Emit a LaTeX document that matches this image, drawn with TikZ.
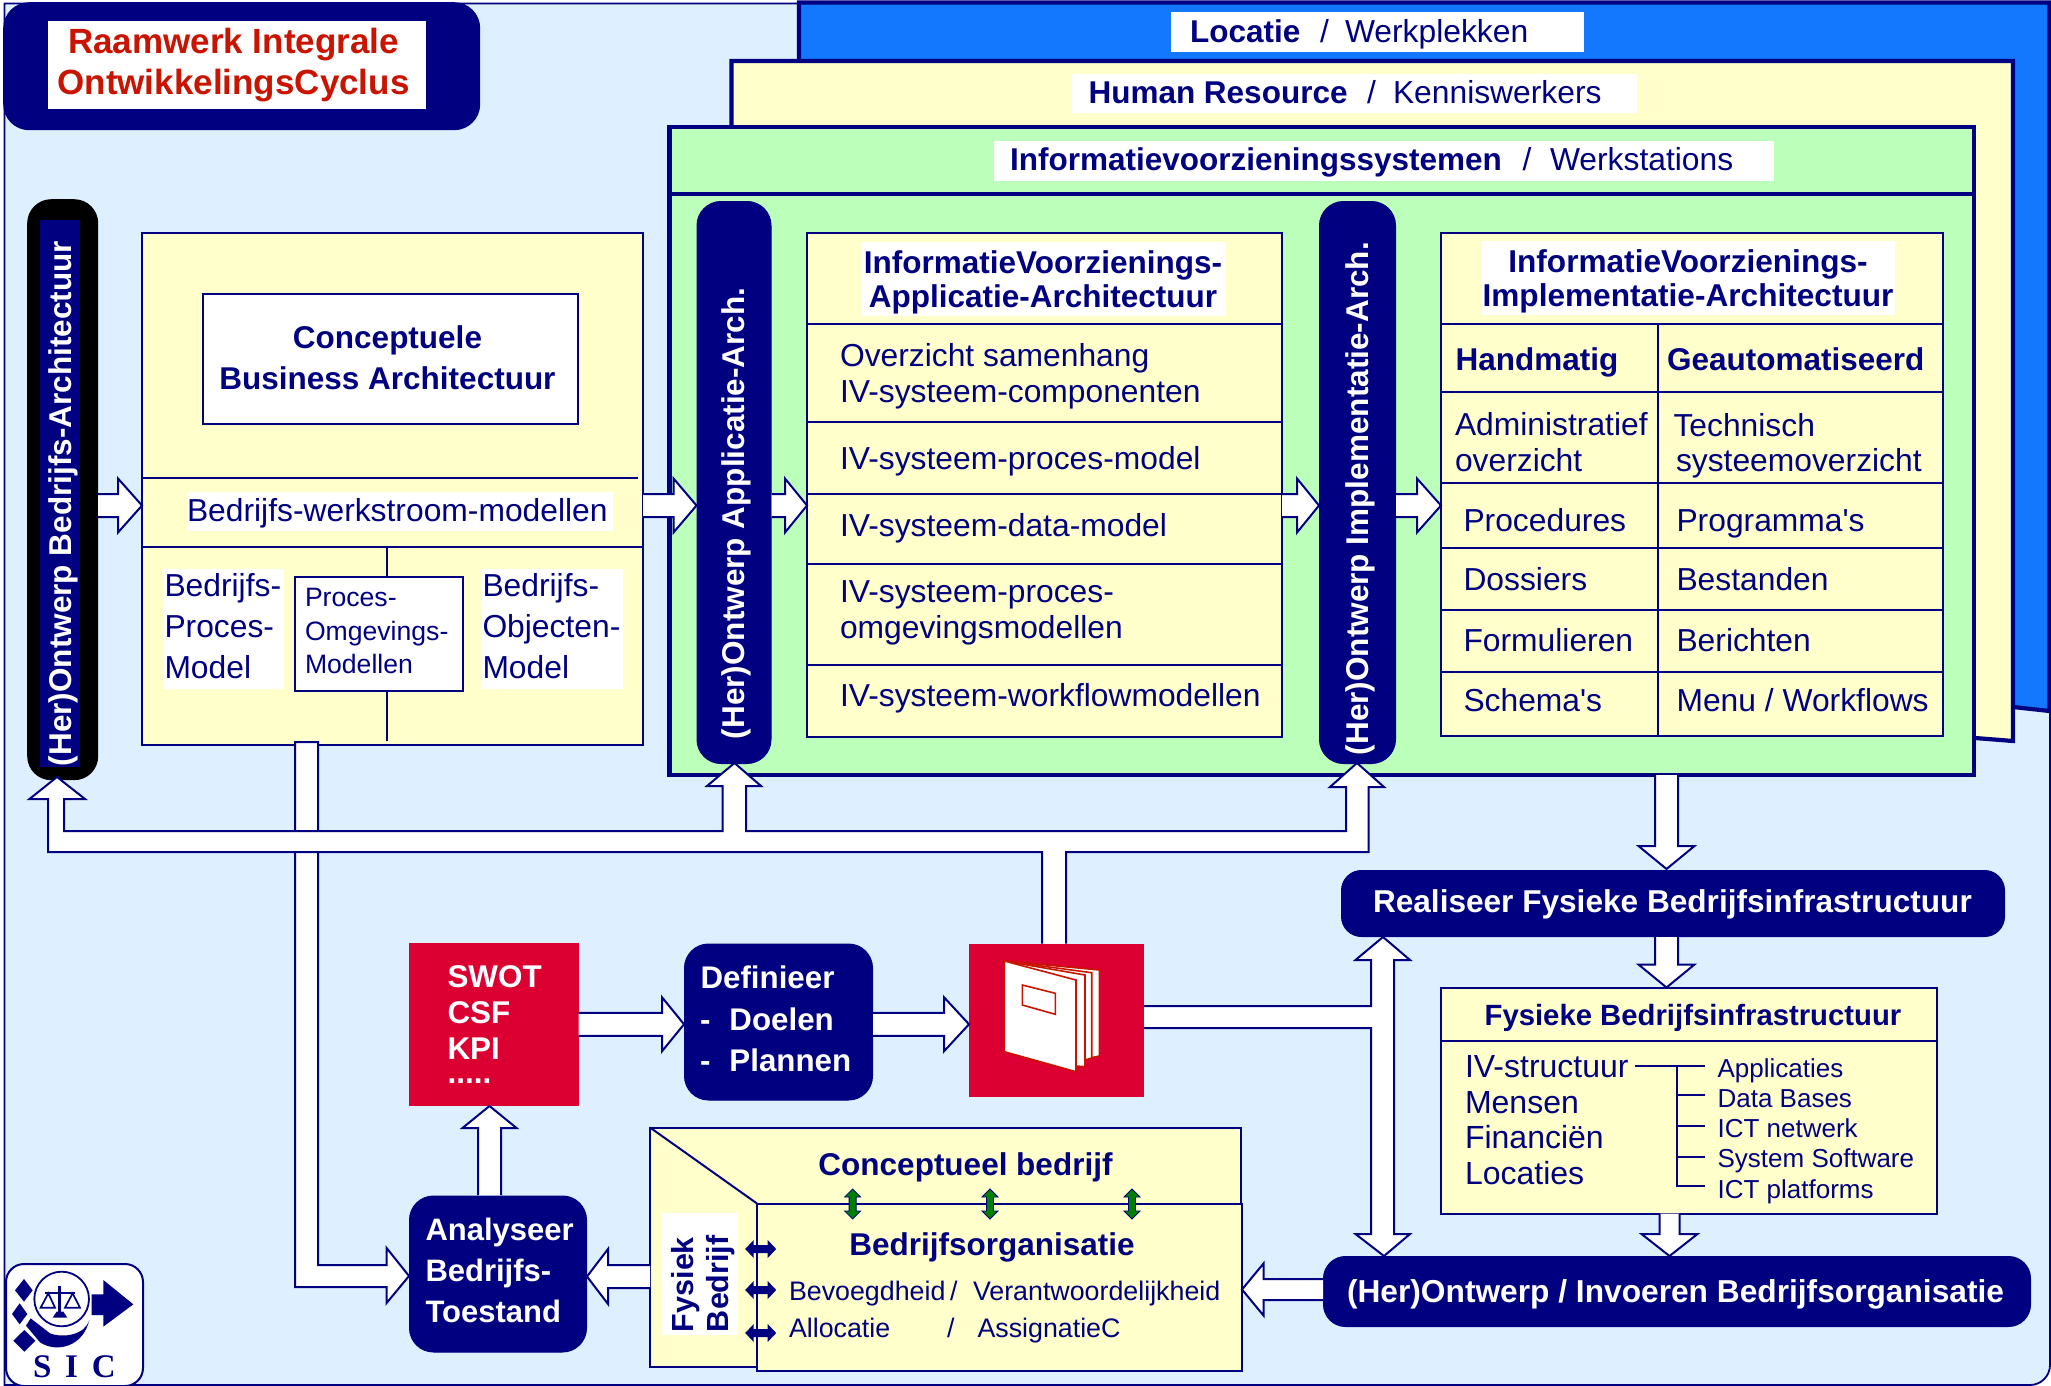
\documentclass[tikz,border=0pt]{standalone}
\usepackage{fontspec}
\setmainfont{Liberation Sans}[Ligatures=TeXOff]
\newfontfamily\serifb{Liberation Serif}
\usetikzlibrary{calc}
\definecolor{nvy}{HTML}{000080}
\definecolor{pagebg}{HTML}{DEF0FF}
\definecolor{yel}{HTML}{FFFFCC}
\definecolor{grn}{HTML}{BBFFBB}
\definecolor{blu}{HTML}{1478FF}
\definecolor{redbox}{HTML}{DC0032}
\definecolor{redt}{HTML}{C81400}
\definecolor{grnarr}{HTML}{008000}
\newcommand\sz[2]{\fontsize{#1}{#2}\selectfont}
\newcounter{tn}
\newcommand\tx[4][]{\stepcounter{tn}\node[txt,#1] (t\thetn) at (#2,#3) {#4};}
% box as a named node from its corners
\newcommand\bx[6][]{\node[boxn,#1,minimum width={(#5-#3)*1pt},minimum height={(#6-#4)*1pt}] (#2) at (#3,#4) {};}
% block arrow between two points
\newcommand\blockarrow[5]{%
  \coordinate (baA) at #1; \coordinate (baB) at #2;
  \coordinate (baH) at ($(baB)!#5 pt!(baA)$);
  \path[blockar] ($(baA)!#3 pt!90:(baB)$) -- ($(baH)!#3 pt!90:(baB)$) -- ($(baH)!#4 pt!90:(baB)$) -- (baB)
     -- ($(baH)!#4 pt!-90:(baB)$) -- ($(baH)!#3 pt!-90:(baB)$) -- ($(baA)!#3 pt!-90:(baB)$);}
\newcommand\gdbl[2]{\draw[shift={(#1,#2)},fill=grnarr,draw=nvy,line width=.8pt,line join=miter]
  (0,-15)--(8,-7)--(3.5,-7)--(3.5,7)--(8,7)--(0,15)--(-8,7)--(-3.5,7)--(-3.5,-7)--(-8,-7)--cycle;}
\newcommand\ndbl[2]{\fill[shift={(#1,#2)},nvy]
  (-15.5,0)--(-7,-9)--(-7,-4)--(7,-4)--(7,-9)--(15.5,0)--(7,9)--(7,4)--(-7,4)--(-7,9)--cycle;}
\tikzset{
  txt/.style={anchor=base west,inner sep=0pt,outer sep=0pt,text=nvy,font=\sz{31.8}{36},align=left},
  tb/.style={font=\sz{31.5}{41}\bfseries},
  tw/.style={font=\sz{31.5}{41}\bfseries,text=white},
  ctr/.style={anchor=base,align=center},
  boxn/.style={anchor=north west,inner sep=0pt,outer sep=0pt,draw=nvy,line width=2pt,fill=yel},
  whitelabel/.style={draw=none,fill=white},
  whitebox/.style={fill=white},
  navybox/.style={draw=nvy,line width=1pt,fill=nvy,rounded corners=24pt},
  pill/.style={draw=nvy,line width=1pt,fill=nvy,rounded corners=24pt},
  redb/.style={draw=none,fill=redbox},
  blockar/.style={draw=nvy,line width=2pt,fill=white,line join=miter},
  rowline/.style={draw=nvy,line width=2pt},
  thickbd/.style={draw=nvy,line width=4.2pt,line join=miter},
  bookp/.style={fill=white,draw=redt,line width=1.6pt,line join=miter}
}
\begin{document}
\begin{tikzpicture}[x=1pt,y=-1pt]
\useasboundingbox (0,0) rectangle (2051,1386);
% page
\draw[fill=pagebg,draw=nvy,line width=1.8pt] (4.5,3.5) -- (2050,3.5) [rounded corners=20pt] -- (2050,1385) [sharp corners] -- (4.5,1385) -- cycle;
% title
\node[anchor=north west,inner sep=0pt,fill=nvy,rounded corners=26pt,minimum width=477pt,minimum height=128pt] (titlebox) at (3,2) {};
\node[anchor=north west,inner sep=0pt,fill=white,minimum width=378pt,minimum height=88pt] (titlelab) at (48,21) {};
\tx[ctr,font=\sz{35}{41}\bfseries,text=redt]{233.5}{95}{Raamwerk Integrale\\OntwikkelingsCyclus}
% layered panels
\path[fill=blu,thickbd] (799,2.5) -- (2049.5,2.5) -- (2049.5,711) -- (2013,707) -- (799,707) -- cycle;
\path[fill=yel,thickbd] (731.5,61) -- (2013,61) -- (2013,741) -- (1975,738) -- (731.5,738) -- cycle;
\bx[thickbd,fill=grn,line width=4.2pt]{green}{669.5}{127}{1974}{775}
\draw[thickbd] (green.west |- 0,194) -- (1972,194);
\bx[whitelabel]{lbLoc}{1171}{12}{1584}{52}
\bx[whitelabel]{lbHR}{1072}{74}{1637}{113}
\bx[whitelabel]{lbIV}{994}{141}{1774}{181}
\tx[tb]{1190}{42.5}{Locatie}\tx{1320}{42.5}{/}\tx{1345}{42.5}{Werkplekken}
\tx[tb]{1088.5}{103.5}{Human Resource}\tx{1367}{103.5}{/}\tx{1393}{103.5}{Kenniswerkers}
\tx[tb]{1010}{170.5}{Informatievoorzieningssystemen}\tx{1522.5}{170.5}{/}\tx{1550}{170.5}{Werkstations}
% left pill
\node[anchor=north west,inner sep=0pt,fill=black,rounded corners=24pt,minimum width=71pt,minimum height=581pt] (pillB) at (27,199) {};
\bx[draw=none,fill=nvy]{pillBin}{40}{220}{80}{767}
\tx[tw,rotate=90]{71.5}{766}{(Her)Ontwerp Bedrijfs-Architectuur}
% business box
\bx{biz}{142}{232.5}{643}{744.5}
\draw[rowline] (142,478) -- (638,478);
\draw[rowline] (142,546.5) -- (643,546.5);
\bx[fill=white]{concept}{203}{294}{578}{424}
\tx[tb,ctr]{387.5}{389.5}{Conceptuele\\Business Architectuur}
\bx[whitelabel]{lbWerk}{187}{492}{613}{531}
\tx{187}{521.5}{Bedrijfs-werkstroom-modellen}
\bx[whitelabel]{lbBPM}{164}{569}{283.5}{689}
\bx[whitelabel]{lbBOM}{482}{569}{623}{689}
\tx[font=\sz{31.8}{41}]{164.5}{678.5}{Bedrijfs-\\Proces-\\Model}
\tx[font=\sz{31.8}{41}]{482.5}{678.5}{Bedrijfs-\\Objecten-\\Model}
\bx[fill=white]{pom}{295}{577}{463}{691}
\tx[font=\sz{26.6}{33.5}]{305}{673.5}{Proces-\\Omgevings-\\Modellen}
\draw[rowline] (387,546) -- (pom.north -| 387,0);
\draw[rowline] (pom.south -| 387,0) -- (387,741);
% pills in green
\node[pill,anchor=north west,inner sep=0pt,minimum width=74pt,minimum height=562pt] (pillA) at (696.5,201) {};
\node[pill,anchor=north west,inner sep=0pt,minimum width=76pt,minimum height=562pt] (pillI) at (1319,201) {};
\tx[tw,rotate=90]{744}{739}{(Her)Ontwerp Applicatie-Arch.}
\tx[tw,rotate=90]{1368}{755}{(Her)Ontwerp Implementatie-Arch.}
% IV application box
\bx{ivapp}{807}{233}{1282}{737}
\foreach \yy in {324,421.6,493.5,563.6,664.6} {\draw[rowline] (ivapp.west |- 0,\yy) -- (ivapp.east |- 0,\yy);}
\bx[whitelabel]{lbApp}{861}{242}{1226}{316}
\tx[tb,ctr,font=\sz{31.5}{34.5}\bfseries]{1043}{307.5}{InformatieVoorzienings-\\Applicatie-Architectuur}
\tx{840}{402.5}{Overzicht samenhang\\IV-systeem-componenten}
\tx{840}{469}{IV-systeem-proces-model}
\tx{840}{536.5}{IV-systeem-data-model}
\tx{840}{638.5}{IV-systeem-proces-\\omgevingsmodellen}
\tx{840}{706.5}{IV-systeem-workflowmodellen}
% IV implementation box
\bx{ivimp}{1441}{233}{1943}{736}
\foreach \yy in {323.5,391.5,482.7,547.7,610,672} {\draw[rowline] (ivimp.west |- 0,\yy) -- (ivimp.east |- 0,\yy);}
\draw[rowline] (1658,323) -- (1658,736);
\bx[whitelabel]{lbImp}{1482}{241}{1895}{315}
\tx[tb,ctr,font=\sz{31.6}{34.5}\bfseries]{1688}{306.5}{InformatieVoorzienings-\\Implementatie-Architectuur}
\tx[tb]{1455.5}{370}{Handmatig}\tx[tb]{1667}{370}{Geautomatiseerd}
\tx{1455}{471.5}{Administratief\\overzicht}
\tx{1673.5}{436.5}{Technisch}\tx{1676}{471.5}{systeemoverzicht}
\tx{1463.5}{531}{Procedures}\tx{1676.5}{531}{Programma's}
\tx{1463.5}{590.5}{Dossiers}\tx{1676.5}{590.5}{Bestanden}
\tx{1463.5}{651}{Formulieren}\tx{1676.5}{651}{Berichten}
\tx{1463.5}{711}{Schema's}\tx{1676.5}{711}{Menu / Workflows}
% row arrows
\coordinate (rowY) at (0,505.5);
\blockarrow{(98,505.5)}{(biz.west |- rowY)}{11.5}{27}{24}
\blockarrow{(biz.east |- rowY)}{(pillA.west |- rowY)}{11.5}{27}{23}
\blockarrow{(pillA.east |- rowY)}{(ivapp.west |- rowY)}{11.5}{27}{22}
\blockarrow{(ivapp.east |- rowY)}{(pillI.west |- rowY)}{11.5}{27}{22}
\blockarrow{(pillI.east |- rowY)}{(ivimp.west |- rowY)}{11.5}{27}{24}
% lower boxes
\bx[redb]{swot}{408.5}{942.5}{578.5}{1106}
\tx[tw,font=\sz{31.4}{36}\bfseries]{447.5}{1059.5}{SWOT\\CSF\\KPI}
\tx[tw]{447.5}{1083.5}{.....}
\node[navybox,anchor=north west,inner sep=0pt,minimum width=188pt,minimum height=156pt] (def) at (684,943.5) {};
\tx[tw,font=\sz{31.3}{41.5}\bfseries]{700}{1071.5}{\hspace{.5pt}Definieer\\-\hspace{19pt}Doelen\\-\hspace{19pt}Plannen}
\bx[redb]{doc}{969}{943.5}{1144}{1097}
\node[navybox,anchor=north west,inner sep=0pt,minimum width=177pt,minimum height=156pt] (ana) at (409,1195.5) {};
\tx[tw,font=\sz{31}{41}\bfseries]{425.5}{1322.5}{Analyseer\\Bedrijfs-\\Toestand}
\node[navybox,anchor=north west,inner sep=0pt,rounded corners=20pt,minimum width=663pt,minimum height=66pt] (real) at (1341,870) {};
\tx[tw,font=\sz{31.6}{40}\bfseries]{1373}{912.5}{Realiseer Fysieke Bedrijfsinfrastructuur}
\node[navybox,anchor=north west,inner sep=0pt,rounded corners=22pt,minimum width=707pt,minimum height=70pt] (her) at (1323,1256) {};
\tx[tw,font=\sz{31.7}{40}\bfseries]{1347}{1302.5}{(Her)Ontwerp / Invoeren Bedrijfsorganisatie}
% book
\path[bookp] (1004.3,961) -- (1099.3,970) -- (1099.3,1056) -- (1090,1058) -- cycle;
\path[bookp] (1004.3,961) -- (1091.7,972.7) -- (1091.7,1058) -- (1085,1060) -- cycle;
\path[bookp] (1004.3,961) -- (1085,975) -- (1085,1066.7) -- (1076,1066) -- cycle;
\path[bookp] (1004.3,961) -- (1076,980) -- (1076,1071.7) -- (1004.3,1051.7) -- cycle;
\path[bookp,fill=none] (1022.3,985) -- (1055.3,993.3) -- (1055.3,1014.3) -- (1022.3,1005) -- cycle;
% vertical from business box
\path[blockar] (295,742) -- (318,742) -- (318,1265) -- (386.6,1265) -- (386.6,1248) -- (409,1276) -- (386.6,1303) -- (386.6,1287) -- (295,1287) -- cycle;
% feedback bus
\path[blockar] (doc.north -| 1042,0) -- (1042,852) -- (48,852) -- (48,799) -- (29.5,799) -- (57,777) -- (85,799) -- (64,799) -- (64,831)
   -- (722.5,831) -- (722.5,786) -- (707,786) -- (734.5,763) -- (761,786) -- (746,786) -- (746,831)
   -- (1346,831) -- (1346,787) -- (1330,787) -- (1357,763) -- (1384,787) -- (1368.5,787) -- (1368.5,852)
   -- (1066,852) -- (doc.north -| 1066,0);
% lower arrows
\blockarrow{(489.5,1195)}{(489.5,1106)}{11.5}{27}{22}
\blockarrow{(swot.east)}{(swot.east -| def.west)}{11.5}{27}{22}
\blockarrow{(def.east |- swot.east)}{(doc.west |- swot.east)}{11.5}{27}{25}
% document to realise / redesign
\path[blockar] (1144,1006) -- (1371,1006) -- (1371,960) -- (1355.5,960) -- (1383,937) -- (1410,960) -- (1394,960) -- (1394,1234)
   -- (1410,1234) -- (1384,1256) -- (1355.5,1234) -- (1371,1234) -- (1371,1028) -- (1144,1028);
% right stack
\bx{fys}{1441}{987.5}{1936.5}{1213.5}
\draw[rowline] (fys.west |- 0,1040.6) -- (fys.east |- 0,1040.6);
\tx[tb,ctr,font=\sz{29.3}{36}\bfseries]{1693}{1025.2}{Fysieke Bedrijfsinfrastructuur}
\tx[font=\sz{32}{35.4}]{1465}{1184}{IV-structuur\\Mensen\\Financiën\\Locaties}
\draw[rowline] (1635,1066) -- (1705,1066);
\draw[rowline] (1676.5,1066) -- (1676.5,1186) -- (1705,1186);
\foreach \yy in {1094.5,1126,1157} {\draw[rowline] (1676.5,\yy) -- (1705,\yy);}
\tx[font=\sz{26}{30.1}]{1717.6}{1198}{Applicaties\\Data Bases\\ICT netwerk\\System Software\\ICT platforms}
\blockarrow{(1666.5,775)}{(1666.5,869)}{11.5}{28}{23}
\blockarrow{(real.south -| 1666.5,0)}{(fys.north -| 1666.5,0)}{11.5}{28}{23}
\blockarrow{(fys.south -| 1669.5,0)}{(her.north -| 1669.5,0)}{10}{28}{22}
% organisation
\path[boxn,draw=nvy,line width=2pt] (650,1127.5) -- (1240.5,1127.5) -- (1240.5,1203.5) -- (757,1203.5) -- (757,1367) -- (650,1367) -- cycle;
\draw[rowline] (650,1127.5) -- (757,1203.5);
\bx{org}{757}{1203.5}{1242}{1371}
\bx[whitelabel]{lbFys}{662}{1213}{738}{1335}
\tx[tb,rotate=90,font=\sz{30.5}{36}\bfseries]{693}{1332}{Fysiek}
\tx[tb,rotate=90,font=\sz{30.5}{36}\bfseries]{728.6}{1332}{Bedrijf}
\tx[tb,ctr]{965.5}{1175.5}{Conceptueel bedrijf}
\tx[tb,ctr]{992}{1255.5}{Bedrijfsorganisatie}
\tx[font=\sz{26.8}{32}]{789}{1300.5}{Bevoegdheid}\tx[font=\sz{26.8}{32}]{950}{1300.5}{/}\tx[font=\sz{26.8}{32}]{973}{1300.5}{Verantwoordelijkheid}
\tx[font=\sz{26.8}{32}]{789}{1337.5}{Allocatie}\tx[font=\sz{26.8}{32}]{947}{1337.5}{/}\tx[font=\sz{26.8}{32}]{977.5}{1337.5}{AssignatieC}
\gdbl{852.6}{1204}\gdbl{990}{1204}\gdbl{1132}{1204}
\ndbl{760.7}{1249}\ndbl{760.7}{1290}\ndbl{760.7}{1333}
\blockarrow{(her.west |- 0,1289.5)}{(org.east |- 0,1289.5)}{10.5}{26}{21.5}
\blockarrow{(650,1276.5)}{(ana.east |- 0,1276.5)}{11.5}{27.5}{21}
% logo
\node[anchor=north west,inner sep=0pt,draw=nvy,line width=2pt,fill=white,rounded corners=18pt,minimum width=137pt,minimum height=122pt] (logo) at (5,1263) {};
\begin{scope}[shift={(0,1255)},x=.3333pt,y=-.3333pt]
  \fill[nvy] (72,72)--(98,106)--(72,140)--(45,106)--cycle;
  \fill[nvy] (59,145)--(82,177)--(59,208)--(36,177)--cycle;
  \fill[nvy] (73,225)--(106,257)--(73,290)--(40,257)--cycle;
  \fill[nvy] (78,212) -- (120,262) .. controls (170,295) and (250,275) .. (268,195) .. controls (255,240) and (190,250) .. (150,235) -- (92,190) -- cycle;
  \draw[nvy,fill=white,line width=1.8pt] (185,132) circle (82);
  \fill[nvy] (275,118) -- (310,118) -- (310,75) -- (400,148) -- (310,215) -- (310,180) -- (275,180) -- cycle;
  \draw[nvy,line width=2pt,fill=none] (135,115) -- (225,115);
  \draw[nvy,line width=3pt] (180,92) -- (180,182);
  \fill[nvy] (158,188) -- (202,188) -- (190,170) -- (170,170) -- cycle;
  \draw[nvy,line width=1.7pt] (145,115) -- (122,158) -- (165,158) -- cycle;
  \draw[nvy,line width=1.7pt] (218,115) -- (195,158) -- (240,158) -- cycle;
\end{scope}
\node[anchor=base west,inner sep=0pt,text=nvy,font=\serifb\sz{33}{36}\bfseries] (logotxt) at (33,1377) {\spaceskip=13.7pt S I C};
\end{tikzpicture}
\end{document}
